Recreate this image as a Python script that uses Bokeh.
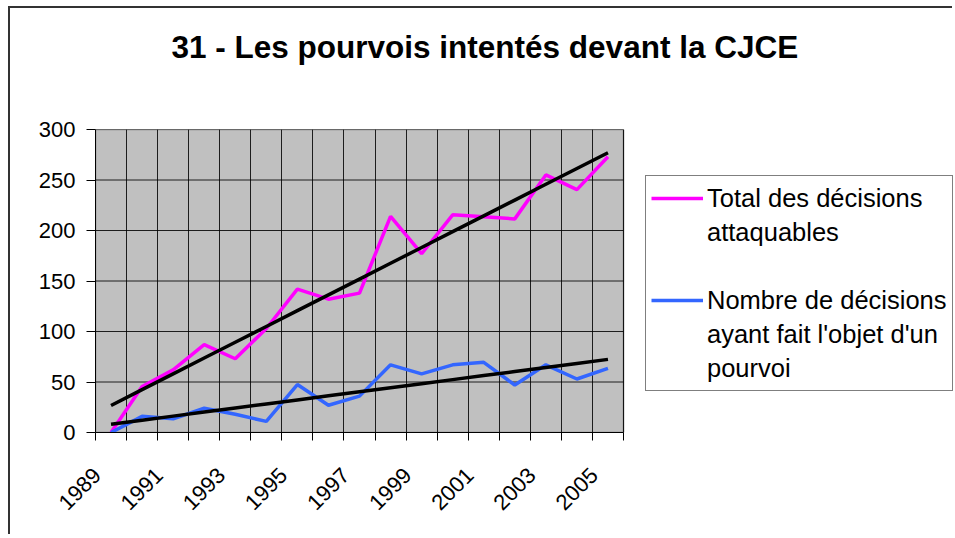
import numpy as np
from bokeh.plotting import figure
from bokeh.models import FixedTicker, Range1d, Legend, LegendItem, Title
from bokeh.embed import file_html
from bokeh.resources import INLINE

# ---- data ----
years = [1989, 1990, 1991, 1992, 1993, 1994, 1995, 1996, 1997,
         1998, 1999, 2000, 2001, 2002, 2003, 2004, 2005]
total_attaquables = [0, 45.5, 62, 87, 73, 103, 142, 132, 138,
                     214, 177, 215.5, 213.5, 211.5, 255, 240.5, 273]
nombre_pourvois = [0, 16, 13.5, 24, 18, 11, 47.5, 27, 36,
                   67, 58, 67, 69.5, 47, 67, 53, 63.5]
tick_years = [1989, 1991, 1993, 1995, 1997, 1999, 2001, 2003, 2005]
tick_labels = ["1989", "1991", "1993", "1995", "1997", "1999", "2001", "2003", "2005"]
y_ticks = [0, 50, 100, 150, 200, 250, 300]

label_total_lines = ["Total des décisions", "attaquables"]
label_pourvoi_lines = ["Nombre de décisions", "ayant fait l'objet d'un", "pourvoi"]
title_text = "31 - Les pourvois intentés devant la CJCE"

# linear trend lines (as Excel's linear trendline)
yr = np.array(years, dtype=float)
c1 = np.polyfit(yr, np.array(total_attaquables), 1)
c2 = np.polyfit(yr, np.array(nombre_pourvois), 1)
trend_total = np.polyval(c1, yr)
trend_pourvoi = np.polyval(c2, yr)

# ---- layout constants ----
W, H = 944, 528
BL, BT, BB = 85, 121, 104          # borders left / top / bottom (px)
PLOT_W = 528                       # width of the grey plot area (px)
FRAME_W = W - BL                   # frame reaches the right edge (legend lives inside)

x0 = years[0] - 0.5
x1 = years[-1] + 0.5
x_end = x0 + (x1 - x0) * FRAME_W / PLOT_W
y0, y1 = y_ticks[0], y_ticks[-1]

boundaries = [y - 0.5 for y in years] + [years[-1] + 0.5]
LABEL_SHIFT = -0.45  # rotated labels sit left of the category centre (stay inside bounds)
label_ticks = [t + LABEL_SHIFT for t in tick_years]

FONT = "Liberation Sans"

p = figure(width=W, height=H, output_backend="svg", toolbar_location=None,
           x_range=Range1d(x0, x_end), y_range=Range1d(y0, y1),
           min_border_left=BL, min_border_right=0,
           min_border_top=BT, min_border_bottom=BB,
           background_fill_color="white", border_fill_color="white",
           outline_line_color=None)
p.styles = {"border-left": "2px solid #333333", "border-top": "2px solid #333333",
            "margin-left": "8px", "margin-top": "6px"}

# spacer pushes the title up to the top of the chart area
p.add_layout(Title(text=" ", text_font_size="43px", text_font=FONT), "above")
p.add_layout(Title(text=title_text, align="left", offset=76, text_font=FONT,
                   text_font_size="31.5px", text_font_style="bold",
                   text_color="black"), "above")

# grey plot area
p.quad(left=[x0], right=[x1], bottom=[y0], top=[y1], fill_color="#C0C0C0",
       line_color="#808080", line_width=1.5, level="image")

# axes
xa = p.xaxis[0]
xa.bounds = (x0, x1)
xa.ticker = FixedTicker(ticks=label_ticks, minor_ticks=boundaries)
xa.major_label_overrides = {t: l for t, l in zip(label_ticks, tick_labels)}
xa.major_label_orientation = np.pi / 4
xa.major_tick_out = 0
xa.major_tick_in = 0
xa.minor_tick_out = 8
xa.minor_tick_in = 0
xa.minor_tick_line_color = "black"
xa.axis_line_color = "black"
xa.major_label_text_font = FONT
xa.major_label_text_font_size = "22px"
xa.major_label_text_color = "black"
xa.major_label_standoff = 31

ya = p.yaxis[0]
ya.ticker = FixedTicker(ticks=y_ticks)
ya.major_tick_out = 9
ya.major_tick_in = 0
ya.minor_tick_out = 0
ya.minor_tick_in = 0
ya.major_tick_line_color = "black"
ya.axis_line_color = "black"
ya.major_label_text_font = FONT
ya.major_label_text_font_size = "22px"
ya.major_label_text_color = "black"
ya.major_label_standoff = 11

p.xgrid.ticker = FixedTicker(ticks=boundaries)
p.xgrid.grid_line_color = "black"
p.xgrid.grid_line_alpha = 0.85
p.ygrid.visible = False
p.segment(x0=[x0] * len(y_ticks), x1=[x1] * len(y_ticks), y0=y_ticks, y1=y_ticks,
          line_color="black", line_alpha=0.85, line_width=1, level="underlay")

r_total = p.line(years, total_attaquables, line_color="#FF00FF", line_width=3.5)
r_pourvoi = p.line(years, nombre_pourvois, line_color="#3366FF", line_width=3.5)
p.line(years, trend_total, line_color="black", line_width=3.5)
p.line(years, trend_pourvoi, line_color="black", line_width=3.5)

items = [LegendItem(label=label_total_lines[0], renderers=[r_total])]
items += [LegendItem(label=t, renderers=[]) for t in label_total_lines[1:]]
items += [LegendItem(label=" ", renderers=[])]
items += [LegendItem(label=label_pourvoi_lines[0], renderers=[r_pourvoi])]
items += [LegendItem(label=t, renderers=[]) for t in label_pourvoi_lines[1:]]

legend = Legend(items=items, location=(PLOT_W + 22, 41))
legend.label_text_font = FONT
legend.label_text_font_size = "25.5px"
legend.label_text_color = "black"
legend.label_height = 34
legend.glyph_height = 20
legend.glyph_width = 52
legend.label_standoff = 4
legend.border_line_color = "black"
legend.border_line_width = 1
legend.background_fill_color = "white"
legend.background_fill_alpha = 1
legend.padding = 5
legend.spacing = 0
legend.margin = 0
p.add_layout(legend, "center")

open("out.html", "w").write(file_html(p, INLINE))
